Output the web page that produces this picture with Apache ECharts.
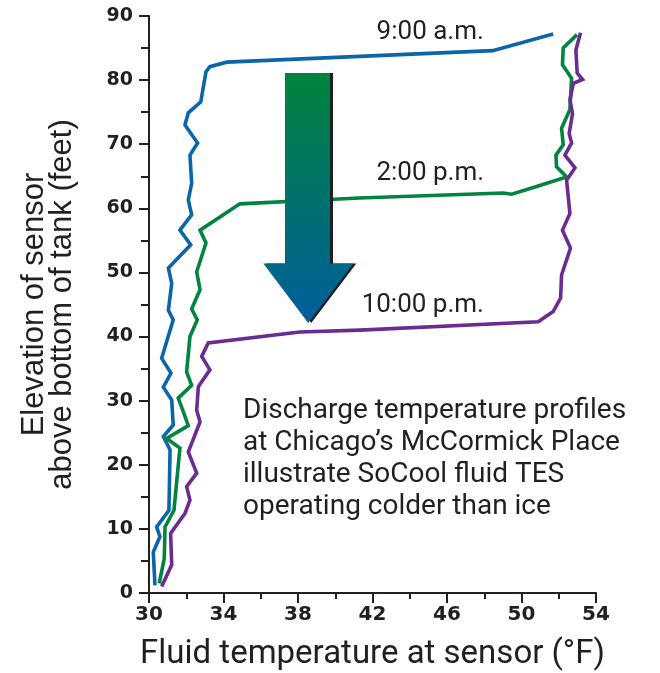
<!DOCTYPE html>
<html>
<head>
    <meta charset="utf-8">
    <title>SoCool discharge temperature profiles</title>
    <script src="https://cdn.jsdelivr.net/npm/echarts@6/dist/echarts.min.js"></script>
    <style>
        html, body { margin: 0; padding: 0; background: #fff; }
        #main { width: 660px; height: 673px; }
    </style>
</head>
<body>
    <div id="main"></div>
    <script type="text/javascript">
        // temperature (°F) / elevation (ft), top to bottom
        var blueT = [51.7, 48.45, 34.17, 33.27, 33.06, 32.78, 32.11, 31.93, 32.61, 32.2, 32.29, 32.11, 32.29, 31.66, 32.24, 31.04, 31.22, 31.04, 31.3, 30.68, 31.18, 30.77, 31.22, 31.3, 30.77, 31.13, 31.07, 30.41, 30.59, 30.23, 30.32];
        var blueE = [87.2, 84.6, 82.8, 82.1, 81.3, 76.6, 74.9, 73.0, 70.2, 68.3, 63.9, 61.3, 59.0, 56.6, 54.3, 50.7, 48.3, 44.1, 42.6, 36.6, 34.3, 32.1, 30.1, 26.2, 24.4, 22.3, 12.9, 10.3, 8.8, 6.4, 1.2];

        var greenT = [52.98, 52.24, 52.2, 52.69, 52.6, 52.15, 52.24, 51.85, 51.88, 52.42, 50.81, 49.47, 49.02, 41.29, 34.88, 32.74, 33.06, 32.56, 32.74, 32.29, 32.59, 32.2, 32.02, 32.29, 31.57, 31.84, 32.11, 30.95, 31.66, 31.34, 30.86, 30.82, 30.55];
        var greenE = [87.1, 85.0, 82.4, 80.3, 75.4, 72.5, 69.9, 68.3, 66.5, 64.9, 63.4, 62.2, 62.4, 61.6, 60.7, 56.6, 54.6, 50.1, 47.3, 44.3, 42.6, 40.0, 34.5, 32.4, 30.4, 28.3, 26.1, 24.1, 22.6, 12.9, 10.3, 5.4, 1.5];

        var purpleT = [53.17, 52.92, 52.99, 53.28, 52.78, 52.6, 52.74, 52.56, 52.69, 52.33, 52.87, 52.42, 52.6, 52.2, 52.63, 52.15, 52.1, 51.7, 50.9, 41.33, 38.1, 33.18, 32.83, 33.27, 32.65, 32.56, 32.74, 32.11, 32.56, 32.02, 32.2, 31.93, 31.16, 31.22, 30.68];
        var purpleE = [87.4, 84.7, 81.1, 80.1, 79.5, 76.9, 74.8, 71.7, 70.2, 68.3, 66.3, 64.4, 59.2, 56.6, 53.8, 49.6, 46.0, 43.9, 42.3, 41.0, 40.7, 39.0, 36.9, 34.8, 32.2, 28.5, 26.7, 22.0, 18.7, 16.6, 14.5, 12.4, 9.3, 4.4, 1.0];

        var seriesNames = ['9:00 a.m.', '2:00 p.m.', '10:00 p.m.'];
        // where each time label sits, in chart units
        var labelT = [45.1, 45.1, 44.7];
        var labelE = [87.4, 65.5, 44.9];

        // downward arrow outline, in chart units
        var arrowT = [37.3, 39.72, 39.72, 40.97, 38.55, 36.14, 37.3];
        var arrowE = [81.1, 81.1, 51.4, 51.4, 42.1, 51.4, 51.4];

        var xTicks = [30, 34, 38, 42, 46, 50, 54];

        var note = [
            'Discharge temperature profiles',
            'at Chicago\u2019s McCormick Place',
            'illustrate SoCool fluid TES',
            'operating colder than ice'
        ];

        var ink = '#231f20';

        function zip(a, b) {
            var out = [];
            for (var i = 0; i < a.length; i++) out.push([a[i], b[i]]);
            return out;
        }

        function profile(name, t, e, color, k) {
            return {
                name: name,
                type: 'line',
                data: zip(t, e),
                showSymbol: false,
                symbol: 'none',
                lineStyle: { color: color, width: 3.6, join: 'miter' },
                z: 2,
                markPoint: {
                    symbolSize: 0,
                    silent: true,
                    label: {
                        show: true,
                        position: 'inside',
                        formatter: name,
                        color: ink,
                        fontFamily: 'Roboto',
                        fontSize: 26
                    },
                    data: [{ coord: [labelT[k], labelE[k]] }]
                }
            };
        }

        var chart = echarts.init(document.getElementById('main'));

        chart.setOption({
            animation: false,
            grid: { left: 149, right: 64, top: 16, bottom: 80, outerBoundsMode: 'none', containLabel: false },
            xAxis: {
                type: 'value',
                min: 30, max: 54, interval: 4,
                name: 'Fluid temperature at sensor (\u00b0F)',
                nameLocation: 'middle',
                nameGap: 45,
                nameTextStyle: { color: ink, fontFamily: 'Roboto', fontSize: 33 },
                axisLine: { lineStyle: { color: ink, width: 2 } },
                axisTick: { length: 10, lineStyle: { color: ink, width: 2 } },
                minorTick: { show: true, splitNumber: 2, length: 6, lineStyle: { color: ink, width: 2 } },
                splitLine: { show: false },
                axisLabel: {
                    margin: 12,
                    color: ink,
                    fontFamily: 'DejaVu Sans',
                    fontWeight: 'bold',
                    fontSize: 20,
                    formatter: function (v) { return xTicks.indexOf(v) >= 0 ? String(v) : ''; }
                }
            },
            yAxis: {
                type: 'value',
                min: 0, max: 90, interval: 10,
                name: 'Elevation of sensor\nabove bottom of tank (feet)',
                nameLocation: 'middle',
                nameGap: 73,
                nameTextStyle: { color: ink, fontFamily: 'Liberation Sans', fontSize: 31, lineHeight: 28 },
                axisLine: { lineStyle: { color: ink, width: 2 } },
                axisTick: { length: 10, lineStyle: { color: ink, width: 2 } },
                minorTick: { show: true, splitNumber: 2, length: 8, lineStyle: { color: ink, width: 2 } },
                splitLine: { show: false },
                axisLabel: {
                    margin: 16,
                    color: ink,
                    fontFamily: 'DejaVu Sans',
                    fontWeight: 'bold',
                    fontSize: 19
                }
            },
            series: [
                profile(seriesNames[0], blueT, blueE, '#0a66a8', 0),
                profile(seriesNames[1], greenT, greenE, '#00843f', 1),
                profile(seriesNames[2], purpleT, purpleE, '#6b2c91', 2),
                {
                    name: 'arrow',
                    type: 'custom',
                    silent: true,
                    z: 5,
                    data: [[arrowT[0], arrowE[0]]],
                    renderItem: function (params, api) {
                        var pts = [];
                        for (var i = 0; i < arrowT.length; i++) {
                            pts.push(api.coord([arrowT[i], arrowE[i]]));
                        }
                        var shadow = pts.map(function (p) { return [p[0] + 3, p[1]]; });
                        return {
                            type: 'group',
                            children: [
                                { type: 'polygon', shape: { points: shadow }, style: { fill: ink } },
                                {
                                    type: 'polygon',
                                    shape: { points: pts },
                                    style: {
                                        fill: new echarts.graphic.LinearGradient(0, 0, 0, 1, [
                                            { offset: 0, color: '#00843d' },
                                            { offset: 1, color: '#005e9c' }
                                        ])
                                    }
                                }
                            ]
                        };
                    }
                }
            ],
            graphic: [{
                type: 'text',
                left: 243,
                top: 395,
                style: {
                    text: note.join('\n'),
                    fill: ink,
                    font: '28px Roboto',
                    lineHeight: 32
                }
            }]
        });
    </script>
</body>
</html>
